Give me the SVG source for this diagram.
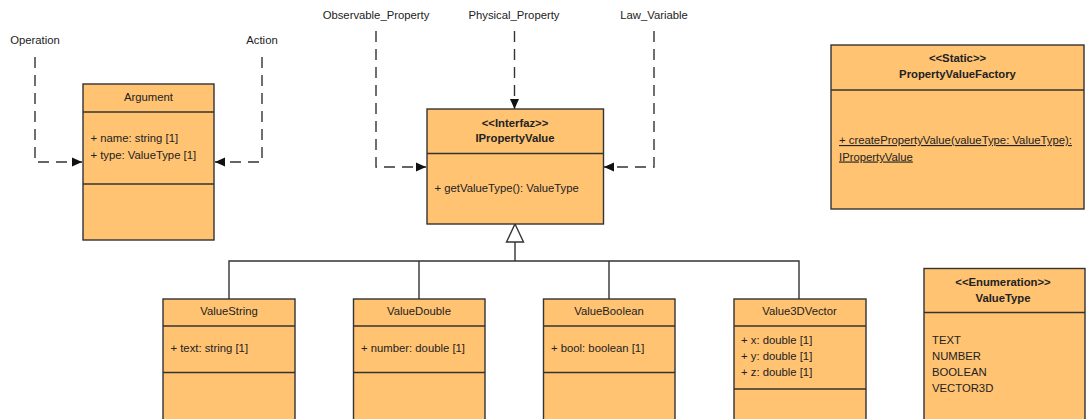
<svg xmlns="http://www.w3.org/2000/svg" width="1086" height="419" viewBox="0 0 1086 419">
  <style>
    .box { fill: #ffc372; stroke: #333333; stroke-width: 1.4; }
    .sep { stroke: #333333; stroke-width: 1.4; fill: none; }
    text { font-family: "Liberation Sans", Arial, sans-serif; font-size: 11.3px; fill: #222222; }
    .c { text-anchor: middle; }
    .b { font-weight: bold; }
    .u { text-decoration: underline; }
    .dep { fill: none; stroke: #333333; stroke-width: 1.4; stroke-dasharray: 11 7; }
    .gen { fill: none; stroke: #333333; stroke-width: 1.4; }
  </style>
  <defs>
    <marker id="arrow" markerWidth="11" markerHeight="10" refX="10" refY="5" orient="auto" markerUnits="userSpaceOnUse">
      <path d="M0,0.5 L10,5 L0,9.5 Z" fill="#111111"/>
    </marker>
  </defs>
  <rect width="1086" height="419" fill="#ffffff"/>

  <!-- free labels -->
  <g id="labels">
    <text class="c" x="35" y="44">Operation</text>
    <text class="c" x="262" y="44">Action</text>
    <text class="c" x="376" y="19">Observable_Property</text>
    <text class="c" x="514" y="19">Physical_Property</text>
    <text class="c" x="654" y="19">Law_Variable</text>
  </g>

  <!-- connectors -->
  <g id="connectors">
    <path class="dep" d="M35,57 V162 H82" marker-end="url(#arrow)"/>
    <path class="dep" d="M262,57 V162 H215" marker-end="url(#arrow)"/>
    <path class="dep" d="M376,31 V167 H426" marker-end="url(#arrow)"/>
    <path class="dep" d="M514.5,31 V109" marker-end="url(#arrow)"/>
    <path class="dep" d="M654,31 V167 H604" marker-end="url(#arrow)"/>
    <!-- generalization tree -->
    <path class="gen" d="M515,242 V261 M229,299 V261 H799 V299 M419,261 V299 M609,261 V299"/>
    <path d="M515,224 L523.5,242 L506.5,242 Z" fill="#ffffff" stroke="#333333" stroke-width="1.4"/>
  </g>

  <g id="Argument">
    <rect class="box" x="83" y="84" width="131" height="156"/>
    <line class="sep" x1="83" y1="112" x2="214" y2="112"/>
    <line class="sep" x1="83" y1="184" x2="214" y2="184"/>
    <text class="c" x="148.5" y="101">Argument</text>
    <text x="90.5" y="142">+ name: string [1]</text>
    <text x="90.5" y="159">+ type: ValueType [1]</text>
  </g>

  <g id="IPropertyValue">
    <rect class="box" x="427" y="109" width="176.5" height="115"/>
    <line class="sep" x1="427" y1="153.5" x2="603.5" y2="153.5"/>
    <text class="c b" x="515" y="126.5">&lt;&lt;Interfaz&gt;&gt;</text>
    <text class="c b" x="515" y="142">IPropertyValue</text>
    <text x="434.5" y="191.5">+ getValueType(): ValueType</text>
  </g>

  <g id="PropertyValueFactory">
    <rect class="box" x="831" y="45" width="253" height="164"/>
    <line class="sep" x1="831" y1="90" x2="1084" y2="90"/>
    <text class="c b" x="957.5" y="62">&lt;&lt;Static&gt;&gt;</text>
    <text class="c b" x="957.5" y="78">PropertyValueFactory</text>
    <text class="u" x="839" y="144">+ createPropertyValue(valueType: ValueType):</text>
    <text class="u" x="839" y="160.5">IPropertyValue</text>
  </g>

  <g id="ValueString">
    <rect class="box" x="163" y="299" width="132" height="131"/>
    <line class="sep" x1="163" y1="326" x2="295" y2="326"/>
    <line class="sep" x1="163" y1="372.5" x2="295" y2="372.5"/>
    <text class="c" x="229" y="315">ValueString</text>
    <text x="170.5" y="352">+ text: string [1]</text>
  </g>

  <g id="ValueDouble">
    <rect class="box" x="353.5" y="299" width="131.5" height="131"/>
    <line class="sep" x1="353.5" y1="326" x2="485" y2="326"/>
    <line class="sep" x1="353.5" y1="372.5" x2="485" y2="372.5"/>
    <text class="c" x="419" y="315">ValueDouble</text>
    <text x="361" y="352">+ number: double [1]</text>
  </g>

  <g id="ValueBoolean">
    <rect class="box" x="543.5" y="299" width="131.5" height="131"/>
    <line class="sep" x1="543.5" y1="326" x2="675" y2="326"/>
    <line class="sep" x1="543.5" y1="372.5" x2="675" y2="372.5"/>
    <text class="c" x="609" y="315">ValueBoolean</text>
    <text x="551" y="352">+ bool: boolean [1]</text>
  </g>

  <g id="Value3DVector">
    <rect class="box" x="734" y="299" width="132" height="131"/>
    <line class="sep" x1="734" y1="326" x2="866" y2="326"/>
    <line class="sep" x1="734" y1="389" x2="866" y2="389"/>
    <text class="c" x="799.5" y="315">Value3DVector</text>
    <text x="741" y="343.5">+ x: double [1]</text>
    <text x="741" y="359.5">+ y: double [1]</text>
    <text x="741" y="375.5">+ z: double [1]</text>
  </g>

  <g id="ValueType">
    <rect class="box" x="924" y="268.5" width="161" height="161"/>
    <line class="sep" x1="924" y1="312.5" x2="1085" y2="312.5"/>
    <text class="c b" x="1003" y="286">&lt;&lt;Enumeration&gt;&gt;</text>
    <text class="c b" x="1003" y="301.5">ValueType</text>
    <text x="932" y="344">TEXT</text>
    <text x="932" y="360">NUMBER</text>
    <text x="932" y="376">BOOLEAN</text>
    <text x="932" y="392">VECTOR3D</text>
  </g>
</svg>
